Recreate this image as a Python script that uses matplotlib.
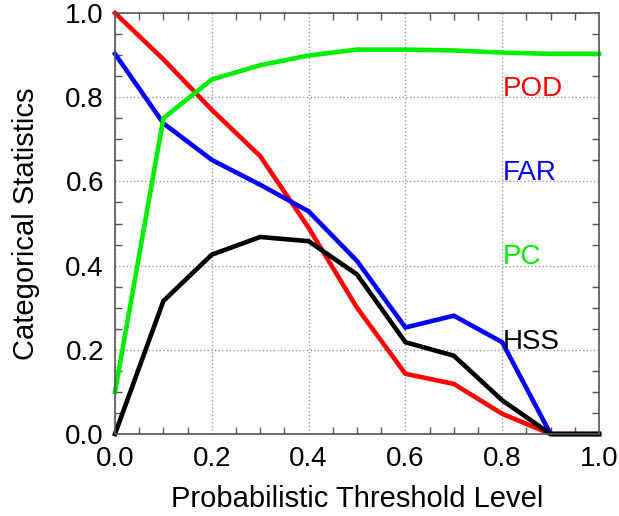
import matplotlib
matplotlib.use('Agg')
import matplotlib.pyplot as plt
from matplotlib.ticker import MultipleLocator

plt.rcParams['font.family'] = ['Liberation Sans', 'DejaVu Sans']

# threshold levels and statistics
threshold = [0.0, 0.1, 0.2, 0.3, 0.4, 0.5, 0.6, 0.7, 0.8, 0.9, 1.0]
pod = [1.0, 0.89, 0.77, 0.66, 0.49, 0.30, 0.143, 0.119, 0.048, 0.0, 0.0]
far = [0.903, 0.738, 0.651, 0.592, 0.529, 0.411, 0.253, 0.281, 0.218, 0.0, 0.0]
pc = [0.10, 0.75, 0.842, 0.876, 0.899, 0.913, 0.913, 0.911, 0.906, 0.903, 0.903]
hss = [0.0, 0.316, 0.426, 0.468, 0.458, 0.379, 0.218, 0.186, 0.08, 0.0, 0.0]

names = ['POD', 'FAR', 'PC', 'HSS']
colors = ['#ff0000', '#0000ff', '#00ee00', '#000000']
label_y = [0.8, 0.6, 0.4, 0.2]

fig = plt.figure(figsize=(6.19, 5.16), dpi=100)
ax = fig.add_axes([115 / 619, 1 - 434 / 516, 484 / 619, 421 / 516])

for series, c in zip([pod, far, pc, hss], colors):
    ax.plot(threshold, series, color=c, linewidth=3.3, solid_joinstyle='miter', clip_on=False)

for name, c, yy in zip(names, colors, label_y):
    ax.text(0.802, yy + 0.003, name, color=c, fontsize=20, ha='left', va='baseline')

ax.set_xlim(0, 1)
ax.set_ylim(0, 1)
ax.xaxis.set_major_locator(MultipleLocator(0.2))
ax.yaxis.set_major_locator(MultipleLocator(0.2))
ax.xaxis.set_minor_locator(MultipleLocator(0.05))
ax.yaxis.set_minor_locator(MultipleLocator(0.05))
ax.set_xticklabels(['%.1f' % v for v in ax.get_xticks()])
ax.set_yticklabels(['%.1f' % v for v in ax.get_yticks()])
ax.tick_params(which='both', direction='in', top=True, right=True, color='#555555',
               width=1, labelsize=20)
ax.tick_params(which='major', length=0)
ax.tick_params(which='minor', length=5)
ax.tick_params(axis='x', pad=9)
ax.tick_params(axis='y', pad=8)
ax.grid(True, which='major', linestyle=':', color='#999999', linewidth=1)
for s in ax.spines.values():
    s.set_color('#555555')
    s.set_linewidth(1.2)

ax.set_xlabel('Probabilistic Threshold Level', fontsize=21, labelpad=9)
ax.set_ylabel('Categorical Statistics', fontsize=21, labelpad=18)

fig.savefig('out.png', dpi=100)
